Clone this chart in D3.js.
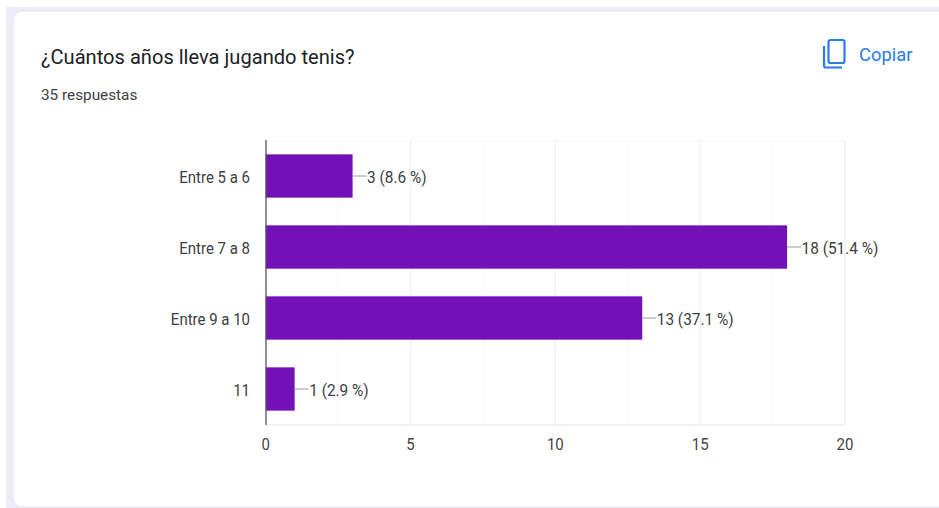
<!DOCTYPE html>
<html><head><meta charset="utf-8">
<script src="https://cdn.jsdelivr.net/npm/d3@7"></script>
<style>html,body{margin:0;padding:0;background:#fff}svg{display:block}text{font-family:Roboto,Arial,sans-serif}</style>
</head><body><svg id="c" width="939" height="508"></svg>
<script>
const categories=["Entre 5 a 6","Entre 7 a 8","Entre 9 a 10","11"];
const values=[3,18,13,1];
const valueLabels=["3 (8.6 %)","18 (51.4 %)","13 (37.1 %)","1 (2.9 %)"];
const xTicks=[0,5,10,15,20];
const minorTicks=[2.5,7.5,12.5,17.5];
const title="¿Cuántos años lleva jugando tenis?";
const subtitle="35 respuestas";

const svg=d3.select("#c");
svg.append("rect").attr("x",6).attr("y",7).attr("width",933).attr("height",501).attr("fill","#f0ebf8");
svg.append("rect").attr("x",13).attr("y",11).attr("width",940).attr("height",496).attr("rx",9)
  .attr("fill","#fff").attr("stroke","#e6e3ee").attr("stroke-width",1);
svg.append("text").attr("x",41).attr("y",64).attr("font-size",20.1).attr("fill","#202124").text(title);
svg.append("text").attr("x",41).attr("y",100).attr("font-size",15.3).attr("fill","#3c4043").text(subtitle);
const ic=svg.append("g").attr("fill","none").attr("stroke","#2a7ae9").attr("stroke-width",2.2);
ic.append("rect").attr("x",828.5).attr("y",40).attr("width",16).attr("height",23).attr("rx",2);
ic.append("path").attr("d","M824 46V65.5a2 2 0 0 0 2 2H842");
svg.append("text").attr("x",859).attr("y",60.5).attr("font-size",18.4).attr("fill","#2a7ae9").text("Copiar");

const x=d3.scaleLinear().domain([0,20]).range([265.7,845]);
const y=d3.scaleBand().domain(categories).range([140.5,424.5]).paddingInner(0.39).paddingOuter(0.195);

const g=svg.append("g");
g.selectAll("line.minor").data(minorTicks).join("line").attr("class","minor")
 .attr("x1",d=>x(d)).attr("x2",d=>x(d)).attr("y1",141).attr("y2",425).attr("stroke","#f7f7f7");
g.selectAll("line.major").data(xTicks.slice(1)).join("line").attr("class","major")
 .attr("x1",d=>x(d)).attr("x2",d=>x(d)).attr("y1",141).attr("y2",425).attr("stroke","#f1f1f1").attr("stroke-width",1.5);
g.append("line").attr("x1",266).attr("x2",845).attr("y1",141).attr("y2",141).attr("stroke","#f5f5f5");
g.append("line").attr("x1",266).attr("x2",845).attr("y1",425).attr("y2",425).attr("stroke","#eeeeee").attr("stroke-width",1.5);

g.selectAll("rect.bar").data(values).join("rect").attr("class","bar")
 .attr("x",x(0)).attr("y",(d,i)=>y(categories[i])).attr("width",d=>x(d)-x(0)).attr("height",y.bandwidth())
 .attr("fill","#7211b8");
g.append("line").attr("x1",266).attr("x2",266).attr("y1",140).attr("y2",425).attr("stroke","#555").attr("stroke-width",1.3);

const mid=i=>y(categories[i])+y.bandwidth()/2;
const tall=1.12;
g.selectAll("line.lead").data(values).join("line").attr("class","lead")
 .attr("x1",d=>x(d)).attr("x2",d=>x(d)+14).attr("y1",(d,i)=>mid(i)).attr("y2",(d,i)=>mid(i)).attr("stroke","#aaa").attr("stroke-width",1.2);
g.selectAll("text.val").data(values).join("text").attr("class","val")
 .attr("transform",(d,i)=>`translate(${x(d)+14.5},${mid(i)+6.8}) scale(1,${tall})`).attr("font-size",15.4).attr("fill","#3c4043").text((d,i)=>valueLabels[i]);
g.selectAll("text.cat").data(categories).join("text").attr("class","cat")
 .attr("transform",(d,i)=>`translate(250,${mid(i)+6.8}) scale(1,${tall})`).attr("text-anchor","end").attr("font-size",15).attr("fill","#3c4043").text(d=>d);
g.selectAll("text.tick").data(xTicks).join("text").attr("class","tick")
 .attr("transform",d=>`translate(${x(d)},450) scale(1,${tall})`).attr("text-anchor","middle").attr("font-size",15).attr("fill","#444").text(d=>d);
</script></body></html>
